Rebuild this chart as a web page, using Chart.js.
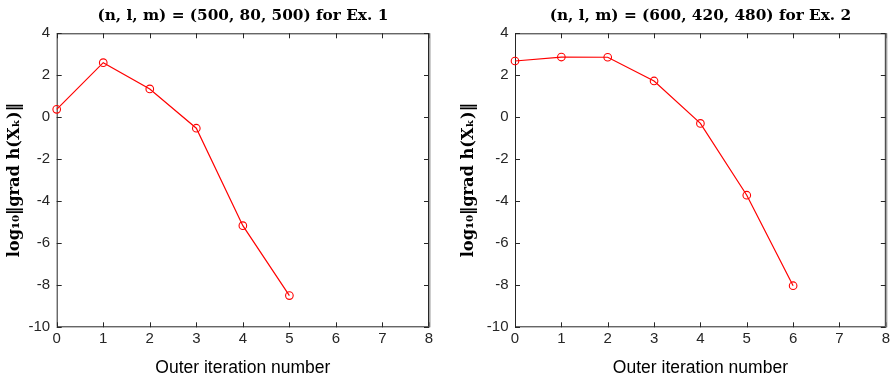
<!DOCTYPE html>
<html>
<head>
<meta charset="utf-8">
<script src="https://cdn.jsdelivr.net/npm/chart.js@4.4.1/dist/chart.umd.min.js"></script>
<style>
  html, body { margin: 0; padding: 0; background: #fff; }
  #wrap { position: relative; width: 893px; height: 381px; overflow: hidden; }
  .box { position: absolute; top: 0; height: 381px; }
  #b1 { left: 0; width: 446px; }
  #b2 { left: 446px; width: 447px; }
</style>
</head>
<body>
<div id="wrap">
  <div class="box" id="b1"><canvas id="c1" width="446" height="381"></canvas></div>
  <div class="box" id="b2"><canvas id="c2" width="447" height="381"></canvas></div>
</div>
<script>
// ---- data ----
const ex1Iterations = [0, 1, 2, 3, 4, 5];
const ex1LogGrad = [0.38, 2.60, 1.35, -0.52, -5.16, -8.49];
const ex2Iterations = [0, 1, 2, 3, 4, 5, 6];
const ex2LogGrad = [2.68, 2.87, 2.86, 1.73, -0.29, -3.71, -8.02];
const xTickValues = [0, 1, 2, 3, 4, 5, 6, 7, 8];
const yTickValues = [-10, -8, -6, -4, -2, 0, 2, 4];
const title1 = '(n, l, m) = (500, 80, 500) for Ex. 1';
const title2 = '(n, l, m) = (600, 420, 480) for Ex. 2';
const yLabel = 'log\u2081\u2080\u2016grad h(X\u2096)\u2016';
const xLabel = 'Outer iteration number';

const AXIS_COLOR = '#262626';
const SANS = '"Liberation Sans", Arial, Helvetica, sans-serif';
const SERIF = '"DejaVu Serif", "Liberation Serif", serif';

const boxPlugin = {
  id: 'matlabBox',
  beforeDatasetsDraw(chart) {
    const { ctx, chartArea: a, scales } = chart;
    const xs = scales.x, ys = scales.y;
    const tl = 5;
    ctx.save();
    ctx.strokeStyle = AXIS_COLOR;
    ctx.lineWidth = 1;
    ctx.beginPath();
    ctx.moveTo(a.left + 0.5, a.top + 0.5);
    ctx.lineTo(a.right - 0.5, a.top + 0.5);
    ctx.lineTo(a.right - 0.5, a.bottom - 0.5);
    ctx.lineTo(a.left + 0.5, a.bottom - 0.5);
    ctx.closePath();
    ctx.stroke();
    ctx.beginPath();
    xTickValues.forEach(v => {
      const px = Math.round(xs.getPixelForValue(v)) + 0.5;
      ctx.moveTo(px, a.bottom); ctx.lineTo(px, a.bottom - tl);
      ctx.moveTo(px, a.top); ctx.lineTo(px, a.top + tl);
    });
    yTickValues.forEach(v => {
      const py = Math.round(ys.getPixelForValue(v)) + 0.5;
      ctx.moveTo(a.left, py); ctx.lineTo(a.left + tl, py);
      ctx.moveTo(a.right, py); ctx.lineTo(a.right - tl, py);
    });
    ctx.stroke();
    ctx.strokeStyle = 'rgba(140,140,140,0.8)';
    ctx.lineWidth = 1.5;
    ctx.beginPath();
    ctx.moveTo(a.right + 0.8, a.top);
    ctx.lineTo(a.right + 0.8, a.bottom);
    ctx.stroke();
    ctx.restore();
  }
};

function makeChart(canvasId, iters, vals, title, cfg) {
  const points = iters.map((x, i) => ({ x: x, y: vals[i] }));
  return new Chart(document.getElementById(canvasId), {
    type: 'line',
    data: {
      datasets: [{
        data: points,
        borderColor: '#ff0000',
        borderWidth: 1.2,
        pointStyle: 'circle',
        pointRadius: 3.8,
        pointBorderWidth: 1.1,
        pointBorderColor: '#ff0000',
        pointBackgroundColor: 'rgba(0,0,0,0)',
        fill: false,
        tension: 0,
        clip: false
      }]
    },
    options: {
      responsive: false,
      animation: false,
      events: [],
      layout: { padding: { left: 0, right: cfg.padRight, top: 0, bottom: 0 } },
      plugins: { legend: { display: false }, tooltip: { enabled: false }, title: { display: false } },
      scales: {
        x: {
          type: 'linear', position: 'bottom', min: 0, max: 8,
          afterBuildTicks: s => { s.ticks = xTickValues.map(v => ({ value: v })); },
          afterFit: s => { s.height = 381 - 327.3; },
          grid: { display: false, drawTicks: false },
          border: { display: false },
          ticks: { color: AXIS_COLOR, font: { family: SANS, size: 15 }, padding: 3, maxRotation: 0, autoSkip: false },
          title: { display: true, text: xLabel, color: '#000', font: { family: SANS, size: 17.5 }, padding: { top: 0, bottom: 2.5 } }
        },
        xTop: {
          type: 'linear', position: 'top', min: 0, max: 8,
          afterFit: s => { s.height = 33.3; },
          grid: { display: false, drawTicks: false },
          border: { display: false },
          ticks: { display: false },
          title: { display: true, text: title, color: '#000', font: { family: SERIF, size: 15.3, weight: 'bold' }, padding: { top: 6.8, bottom: 0 } }
        },
        y: {
          type: 'linear', position: 'left', min: -10, max: 4,
          afterBuildTicks: s => { s.ticks = yTickValues.map(v => ({ value: v })); },
          afterFit: s => { s.width = cfg.yWidth; },
          grid: { display: false, drawTicks: false },
          border: { display: false },
          ticks: { color: AXIS_COLOR, font: { family: SANS, size: 15 }, padding: 6.5 },
          title: { display: true, text: yLabel, color: '#000', font: { family: SERIF, size: 16.2, weight: 'bold' }, padding: { top: cfg.yTitlePad, bottom: 0 } }
        }
      }
    },
    plugins: [boxPlugin]
  });
}

makeChart('c1', ex1Iterations, ex1LogGrad, title1, { padRight: 17, yWidth: 56.7, yTitlePad: 5.3 });
makeChart('c2', ex2Iterations, ex2LogGrad, title2, { padRight: 5.3, yWidth: 69, yTitlePad: 13.3 });
</script>
</body>
</html>
